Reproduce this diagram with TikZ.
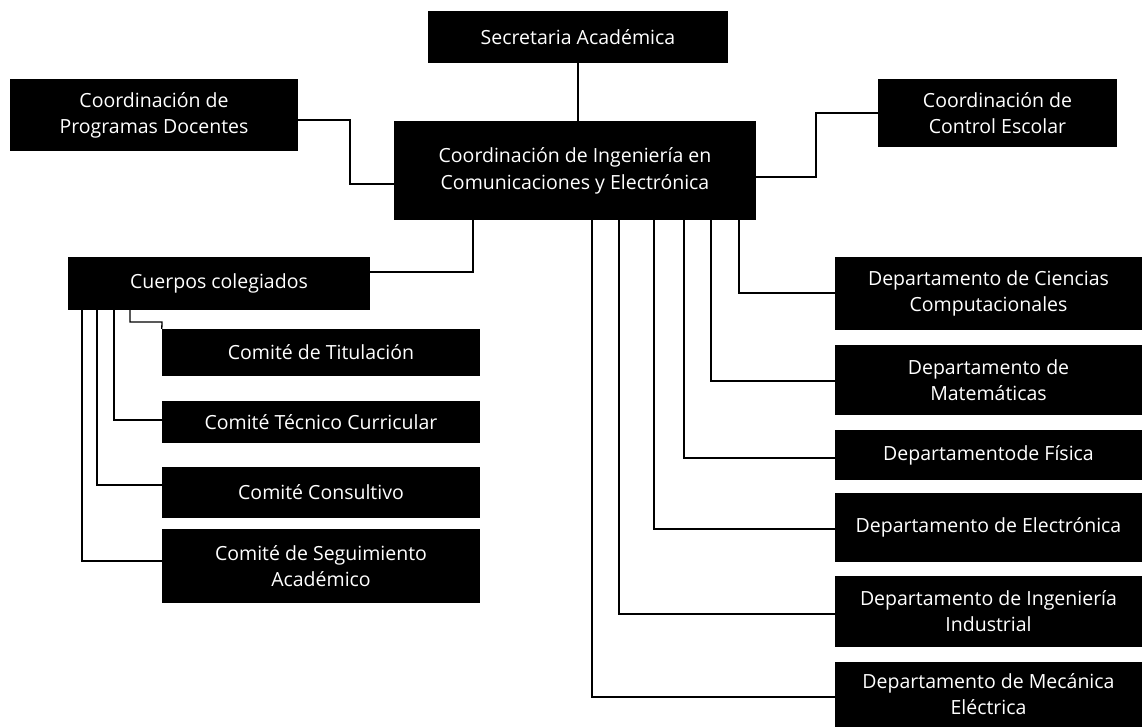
\documentclass[tikz,border=0pt]{standalone}
\usepackage{fontspec}
\setmainfont{Open Sans}
\begin{document}
\begin{tikzpicture}[x=1pt,y=-1pt,
  orgbox/.style={fill=black, text=white, inner sep=0pt, align=center,
    font=\fontsize{19.5}{26}\selectfont},
  link/.style={draw=black, line width=1.3pt}]
\useasboundingbox (0,0) rectangle (1142,727);
% top
\node[orgbox, minimum width=300, minimum height=52] (sec) at (578,37) {Secretaria Académica};
\node[orgbox, minimum width=288, minimum height=72] (prog) at (154,115) {Coordinación de\\Programas Docentes};
\node[orgbox, minimum width=362, minimum height=99, font=\fontsize{19.5}{27}\selectfont] (ing) at (575,170.5) {\raisebox{5pt}{\begin{tabular}{@{}c@{}}Coordinación de Ingeniería en\\Comunicaciones y Electrónica\end{tabular}}};
\node[orgbox, minimum width=239, minimum height=68] (ctrl) at (997.5,113) {Coordinación de\\Control Escolar};
% left
\node[orgbox, minimum width=302, minimum height=53] (cue) at (219,283.5) {Cuerpos colegiados};
\node[orgbox, minimum width=318, minimum height=47] (tit) at (321,352.5) {Comité de Titulación};
\node[orgbox, minimum width=318, minimum height=42] (tec) at (321,422) {Comité Técnico Curricular};
\node[orgbox, minimum width=318, minimum height=51] (con) at (321,492.5) {Comité Consultivo};
\node[orgbox, minimum width=318, minimum height=74] (seg) at (321,566) {Comité de Seguimiento\\Académico};
% right
\node[orgbox, minimum width=307, minimum height=73] (dcc) at (988.5,293.5) {Departamento de Ciencias\\Computacionales};
\node[orgbox, minimum width=307, minimum height=70] (dmat) at (988.5,380) {Departamento de\\Matemáticas};
\node[orgbox, minimum width=307, minimum height=50] (dfis) at (988.5,455) {Departamentode Física};
\node[orgbox, minimum width=307, minimum height=69] (delec) at (988.5,527.5) {Departamento de Electrónica};
\node[orgbox, minimum width=307, minimum height=71] (dind) at (988.5,611.5) {Departamento de Ingeniería\\Industrial};
\node[orgbox, minimum width=307, minimum height=65] (dmec) at (988.5,694.5) {Departamento de Mecánica\\Eléctrica};
% connectors
\draw[link] (sec.south) -- (sec.south |- ing.north);
\draw[link] ([yshift=-5pt]prog.east) -- (350,120) -- (350,184) -- (ing.west |- 350,184);
\draw[link] (ing.east |- 0,177) -- (816,177) -- (816,113) -- (ctrl.west);
\draw[link] (ing.south -| 473,0) -- (473,272) -- (cue.east |- 473,272);
\draw[link] (ing.south -| 739,0) -- (739,293) -- (dcc.west |- 739,293);
\draw[link] (ing.south -| 711,0) -- (711,381) -- (dmat.west |- 711,381);
\draw[link] (ing.south -| 684,0) -- (684,458) -- (dfis.west |- 684,458);
\draw[link] (ing.south -| 654,0) -- (654,529) -- (delec.west |- 654,529);
\draw[link] (ing.south -| 619,0) -- (619,614) -- (dind.west |- 619,614);
\draw[link] (ing.south -| 592,0) -- (592,697) -- (dmec.west |- 592,697);
\draw[link] (cue.south -| 130,0) -- (130,322) -- (162,322) -- (tit.north west);
\draw[link] (cue.south -| 114,0) -- (114,420) -- (tec.west |- 114,420);
\draw[link] (cue.south -| 97,0) -- (97,485) -- (con.west |- 97,485);
\draw[link] (cue.south -| 82,0) -- (82,561) -- (seg.west |- 82,561);
\end{tikzpicture}
\end{document}
